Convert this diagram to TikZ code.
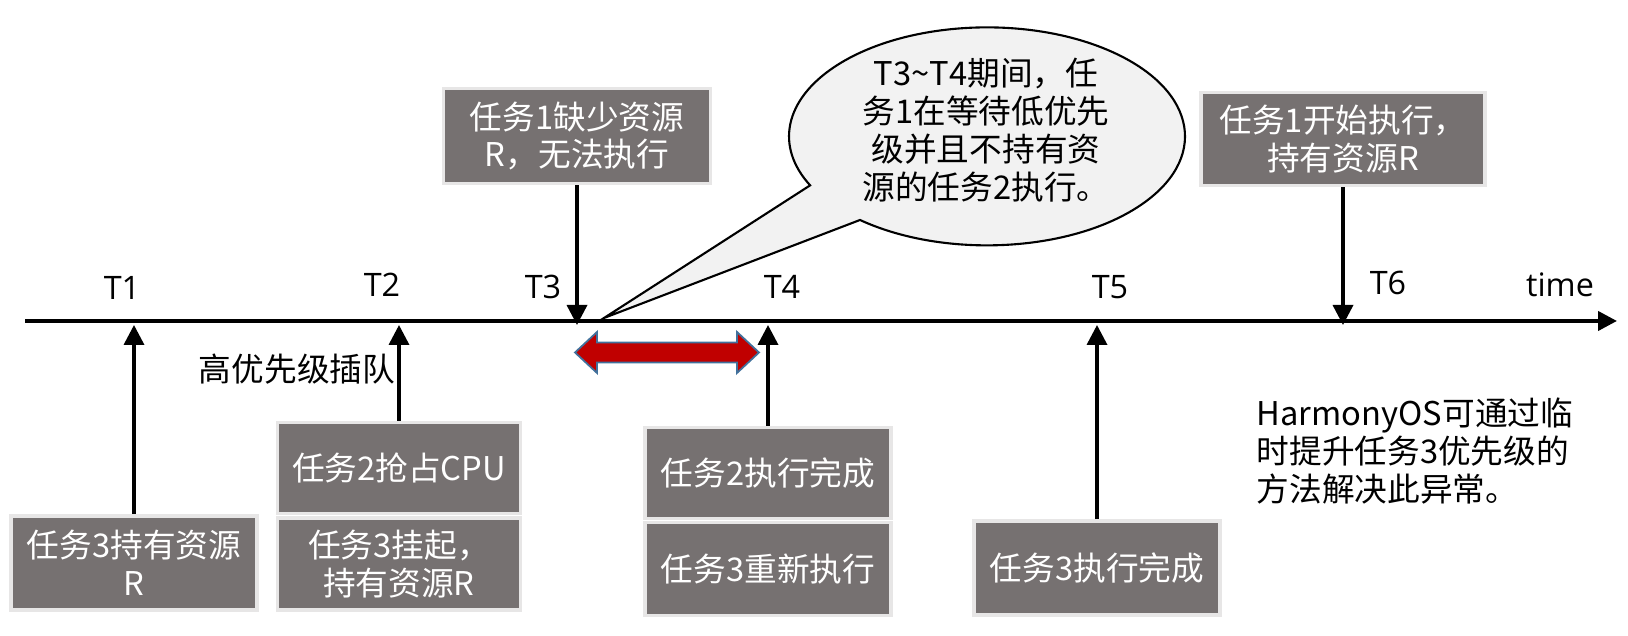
\documentclass[tikz,border=0pt]{standalone}
\usepackage{fontspec}
\setmainfont{Noto Sans CJK SC}
\newfontfamily\latinfont{Open Sans}
\usetikzlibrary{arrows.meta, positioning}
\definecolor{boxgray}{RGB}{118,113,113}
\definecolor{edgegray}{RGB}{231,230,230}
\definecolor{bubblegray}{RGB}{242,242,242}
\definecolor{spanred}{RGB}{192,0,0}
\definecolor{spanedge}{RGB}{65,113,156}

\begin{document}
\begin{tikzpicture}[
  box/.style={draw=edgegray, line width=1.1pt, fill=boxgray, text=white, align=center,
              minimum width=2.46cm, minimum height=0.93cm, inner sep=0pt,
              font=\fontsize{9.3}{10.8}\selectfont},
  tick/.style={font=\latinfont\fontsize{9.2}{11}\selectfont},
  note/.style={align=center, inner sep=0pt, font=\fontsize{9.3}{10.8}\selectfont},
  event/.style={-{Triangle[length=0.2cm, width=0.2cm]}, line width=1pt},
]
\useasboundingbox (0,0) rectangle (16.28,6.36);

\coordinate (origin) at (0.25,3.15);
\coordinate (tend) at (16.17,3.15);
\coordinate (foot) at (0,3.11);
\draw[line width=1.15pt, -{Triangle[length=0.19cm, width=0.19cm]}] (origin) -- (tend);

\foreach \t/\x/\y in {1/1.22/3.48, 2/3.82/3.51, 3/5.43/3.49, 4/7.82/3.49, 5/11.10/3.49, 6/13.88/3.53}
  \node[tick] (t\t) at (\x,\y) {T\t};
\node[tick] (time) at (15.60,3.51) {time};

\node[box, minimum height=0.94cm] (b1) at (1.34,0.73) {任务3持有资源\\R};
\node[box, minimum width=2.43cm, minimum height=0.91cm] (b2a) at (3.99,1.68) {任务2抢占CPU};
\node[box, minimum width=2.43cm, minimum height=0.92cm] (b2b) at (3.99,0.72) {任务3挂起，\\持有资源R};
\node[box, minimum width=2.67cm, minimum height=0.95cm] (b3) at (5.77,5.00) {任务1缺少资源\\R，无法执行};
\node[box, minimum height=0.91cm] (b4a) at (7.68,1.63) {任务2执行完成};
\node[box] (b4b) at (7.68,0.67) {任务3重新执行};
\node[box, minimum height=0.94cm] (b5) at (10.97,0.68) {任务3执行完成};
\node[box, minimum width=2.84cm] (b6) at (13.43,4.97) {任务1开始执行，\\持有资源R};

\draw[event] (b1.north) -- (b1.north |- foot);
\draw[event] (b2a.north) -- (b2a.north |- foot);
\draw[event] (b3.south) -- (b3.south |- foot);
\draw[event] (b4a.north) -- (b4a.north |- foot);
\draw[event] (b5.north) -- (b5.north |- foot);
\draw[event] (b6.south) -- (b6.south |- foot);

\node[note] (jump) at (2.97,2.67) {高优先级插队};

\draw[fill=spanred, draw=spanedge, line width=0.5pt]
  (5.75,2.835) -- (5.97,3.04) -- (5.97,2.935) -- (7.37,2.935) -- (7.37,3.04)
  -- (7.59,2.835) -- (7.37,2.63) -- (7.37,2.735) -- (5.97,2.735) -- (5.97,2.63) -- cycle;

\coordinate (tip) at (6.04,3.18);
\draw[fill=bubblegray, line width=0.6pt]
  (tip) -- (8.60,4.16) arc[start angle=230.1, end angle=566.7, x radius=1.98, y radius=1.09] -- cycle;
\node[note] (why) at (9.86,5.06) {T3\textasciitilde T4期间，任\\务1在等待低优先\\级并且不持有资\\源的任务2执行。};

\node[note, align=left, anchor=west, font=\fontsize{9.3}{10.9}\selectfont] (fix) at (12.56,1.85)
  {HarmonyOS可通过临\\时提升任务3优先级的\\方法解决此异常。};
\end{tikzpicture}
\end{document}
